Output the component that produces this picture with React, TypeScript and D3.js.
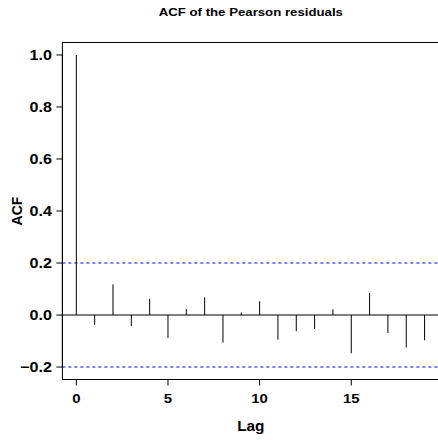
import React from "react";
import * as d3 from "d3";

const lags = [0, 1, 2, 3, 4, 5, 6, 7, 8, 9, 10, 11, 12, 13, 14, 15, 16, 17, 18, 19];
const acfValues = [1.0, -0.038, 0.118, -0.042, 0.062, -0.088, 0.023, 0.068, -0.106, 0.01, 0.053, -0.095, -0.062, -0.054, 0.022, -0.147, 0.085, -0.069, -0.125, -0.097];
const ciBound = 0.2;
const yTicks = [-0.2, 0.0, 0.2, 0.4, 0.6, 0.8, 1.0];
const xTicks = [0, 5, 10, 15];
const title = "ACF of the Pearson residuals";
const xLabel = "Lag";
const yLabel = "ACF";

const W = 438;
const H = 440;
const plotLeft = 62.4;
const plotRight = 439.2;
const plotTop = 42.5;
const plotBottom = 379.5;
const FONT = "'Liberation Sans', Arial, Helvetica, sans-serif";
const SX = 1.15;

export default function App() {
  const xMin = d3.min(lags)!;
  const xMax = d3.max(lags)!;
  const xPad = (xMax - xMin) * 0.04;
  const x = d3.scaleLinear().domain([xMin - xPad, xMax + xPad]).range([plotLeft, 438.5]);
  const yMin = -0.2;
  const yMax = 1.0;
  const yPad = (yMax - yMin) * 0.04;
  const y = d3.scaleLinear().domain([yMin - yPad, yMax + yPad]).range([plotBottom, plotTop]);

  const tickLen = 6;
  const fmt = (v: number) => (v < 0 ? "\u2212" : "") + Math.abs(v).toFixed(1);

  return (
    <svg
      width={W}
      height={H}
      style={{ position: "absolute", left: 0, top: 0, background: "#fff" }}
      fontFamily={FONT}
    >
      <rect x={0} y={0} width={W} height={H} fill="#fff" />
      <text
        transform={`translate(${(plotLeft + plotRight) / 2},16) scale(${SX},1)`}
        textAnchor="middle"
        fontWeight="bold"
        fontSize={11.5}
      >
        {title}
      </text>

      {[ciBound, -ciBound].map((b, i) => (
        <line
          key={"ci" + i}
          x1={plotLeft}
          x2={plotRight}
          y1={y(b)}
          y2={y(b)}
          stroke="#0000ff"
          strokeWidth={1}
          strokeDasharray="3,3"
        />
      ))}

      <line x1={plotLeft} x2={plotRight} y1={y(0)} y2={y(0)} stroke="#000" strokeWidth={1} />

      {lags.map((l, i) => (
        <line
          key={"s" + l}
          x1={x(l)}
          x2={x(l)}
          y1={y(0)}
          y2={y(acfValues[i])}
          stroke="#000"
          strokeWidth={1}
        />
      ))}

      <rect
        x={plotLeft}
        y={plotTop}
        width={plotRight + 4 - plotLeft}
        height={plotBottom - plotTop}
        fill="none"
        stroke="#000"
        strokeWidth={1}
      />

      <line x1={plotLeft} x2={plotLeft} y1={y(yTicks[0])} y2={y(yTicks[yTicks.length - 1])} stroke="#000" />
      {yTicks.map((t) => (
        <g key={"yt" + t}>
          <line x1={plotLeft - tickLen} x2={plotLeft} y1={y(t)} y2={y(t)} stroke="#000" />
          <text
            transform={`translate(${plotLeft - 10.5},${y(t) + 5}) scale(${SX},1)`}
            textAnchor="end"
            fontWeight="bold"
            fontSize={14}
          >
            {fmt(t)}
          </text>
        </g>
      ))}

      <line x1={x(xTicks[0])} x2={x(xTicks[xTicks.length - 1])} y1={plotBottom} y2={plotBottom} stroke="#000" />
      {xTicks.map((t) => (
        <g key={"xt" + t}>
          <line x1={x(t)} x2={x(t)} y1={plotBottom} y2={plotBottom + tickLen} stroke="#000" />
          <text
            transform={`translate(${x(t)},${402.7}) scale(${SX},1)`}
            textAnchor="middle"
            fontWeight="bold"
            fontSize={13}
          >
            {t}
          </text>
        </g>
      ))}

      <text
        transform={`translate(${(plotLeft + plotRight) / 2},431) scale(1.1,1)`}
        textAnchor="middle"
        fontWeight="bold"
        fontSize={14}
      >
        {xLabel}
      </text>
      <text
        transform={`translate(21.5,${(plotTop + plotBottom) / 2}) rotate(-90)`}
        textAnchor="middle"
        fontWeight="bold"
        fontSize={14}
      >
        {yLabel}
      </text>
    </svg>
  );
}
